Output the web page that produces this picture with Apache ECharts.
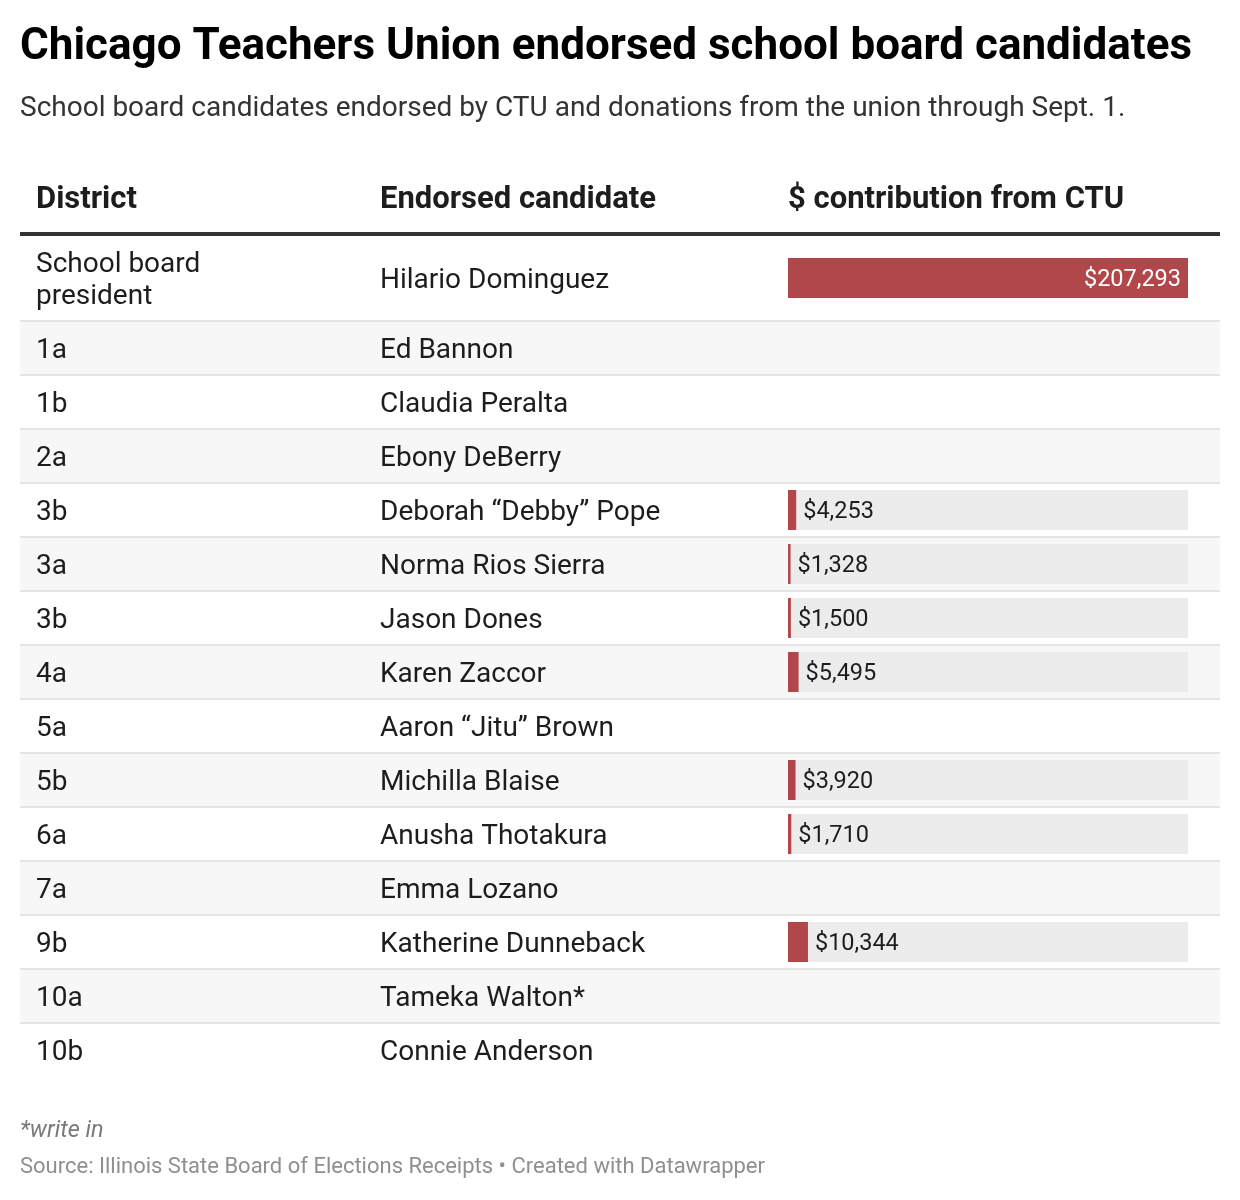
<!DOCTYPE html>
<html>
<head>
<meta charset="utf-8">
<script src="https://cdn.jsdelivr.net/npm/echarts@6/dist/echarts.min.js"></script>
<style>
  html, body { margin: 0; padding: 0; background: #fff; }
  #chart { width: 1240px; height: 1200px; }
</style>
</head>
<body>
<div id="chart"></div>
<script>
(function () {

  var districts = ['School board president', '1a', '1b', '2a', '3b', '3a', '3b', '4a', '5a', '5b', '6a', '7a', '9b', '10a', '10b'];

  var candidates = ['Hilario Dominguez', 'Ed Bannon', 'Claudia Peralta', 'Ebony DeBerry', 'Deborah \u201cDebby\u201d Pope',
    'Norma Rios Sierra', 'Jason Dones', 'Karen Zaccor', 'Aaron \u201cJitu\u201d Brown', 'Michilla Blaise',
    'Anusha Thotakura', 'Emma Lozano', 'Katherine Dunneback', 'Tameka Walton*', 'Connie Anderson'];

  var contributions = [207293, null, null, null, 4253, 1328, 1500, 5495, null, 3920, 1710, null, 10344, null, null];

  var headers = ['District', 'Endorsed candidate', '$ contribution from CTU'];

  var FONT = 'Roboto, "Noto Sans", sans-serif',
      TEXT = '#1d1d1d',
      RED = '#b1474b',
      chart = echarts.init(document.getElementById('chart')),
      maxVal = Math.max.apply(null, contributions.filter(function (v) { return v != null; })),
      money = function (v) { return '$' + v.toLocaleString('en-US'); };

  // first row is taller, so it gets its own grids
  var rowsTop = districts.slice(0, 1), rowsRest = districts.slice(1);
  var candTop = candidates.slice(0, 1), candRest = candidates.slice(1);
  var valTop = contributions.slice(0, 1), valRest = contributions.slice(1);

  // row stripes and rules
  function stripeAxis(gridIndex, data, stripes) {
    return {
      type: 'category', gridIndex: gridIndex, data: data, inverse: true,
      axisLine: { show: false }, axisTick: { show: false }, axisLabel: { show: false },
      splitLine: { show: stripes, lineStyle: { color: '#e5e5e5', width: 2 } },
      splitArea: { show: stripes, areaStyle: { color: ['#f7f7f7', '#ffffff'] } }
    };
  }

  // text columns
  function textAxis(gridIndex, data, margin, wrap) {
    return {
      type: 'category', gridIndex: gridIndex, data: data, inverse: true, position: 'left',
      axisLine: { show: false }, axisTick: { show: false },
      axisLabel: {
        align: 'left', margin: margin, fontSize: 28, color: TEXT, fontFamily: FONT,
        width: wrap, overflow: 'break', lineHeight: 32
      },
      splitLine: { show: false }
    };
  }

  function barAxisY(gridIndex, data) {
    return { type: 'category', gridIndex: gridIndex, data: data, inverse: true, show: false };
  }

  function hiddenX(gridIndex, max) {
    return { type: 'value', gridIndex: gridIndex, min: 0, max: max, show: false };
  }

  function barSeries(axisIndex, vals) {
    return [{
      type: 'bar', xAxisIndex: axisIndex, yAxisIndex: axisIndex, silent: true,
      barWidth: 40, z: 1,
      itemStyle: { color: '#ececec' },
      data: vals.map(function (v) { return v == null ? '-' : maxVal; })
    }, {
      type: 'bar', xAxisIndex: axisIndex, yAxisIndex: axisIndex, silent: true,
      barWidth: 40, barGap: '-100%', z: 2,
      itemStyle: { color: RED },
      data: vals.map(function (v) {
        if (v == null) return '-';
        var big = v > maxVal * 0.3;
        return {
          value: v,
          label: {
            show: true, position: big ? 'insideRight' : 'right', distance: 7, offset: [0, 2],
            color: big ? '#ffffff' : TEXT, fontSize: 23.5, fontFamily: FONT,
            formatter: function (p) { return money(p.value); }
          }
        };
      })
    }];
  }

  var titles = [
    { text: 'Chicago Teachers Union endorsed school board candidates', left: 20, top: 26, padding: 0,
      textStyle: { fontSize: 44, fontWeight: 'bold', color: '#000', fontFamily: FONT } },
    { text: 'School board candidates endorsed by CTU and donations from the union through Sept. 1.', left: 20, top: 95, padding: 0,
      textStyle: { fontSize: 28, fontWeight: 'normal', color: '#333', fontFamily: FONT } },
    { text: '*write in', left: 20, top: 1120, padding: 0,
      textStyle: { fontSize: 23.5, fontStyle: 'italic', fontWeight: 'normal', color: '#7a7a7a', fontFamily: FONT } },
    { text: 'Source: Illinois State Board of Elections Receipts \u2022 Created with Datawrapper', left: 20, top: 1156, padding: 0,
      textStyle: { fontSize: 22, fontWeight: 'normal', color: '#8f8f8f', fontFamily: FONT } }
  ];
  var headerX = [36, 380, 788];
  headers.forEach(function (h, i) {
    titles.push({ text: h, left: headerX[i], top: 185, padding: 0,
      textStyle: { fontSize: 31, fontWeight: 'bold', color: TEXT, fontFamily: FONT } });
  });

  var option = {
    backgroundColor: '#fff',
    animation: false,
    title: titles,
    grid: [
      { left: 20, width: 1200, top: 235, height: 86 },
      { left: 20, width: 1200, top: 321, height: 756 },
      { left: 788, width: 400, top: 235, height: 86 },
      { left: 788, width: 400, top: 321, height: 756 },
      { left: 20, width: 1200, top: 238, height: 86 },
      { left: 20, width: 1200, top: 324, height: 756 }
    ],
    xAxis: [
      hiddenX(0, 1),
      hiddenX(1, 1),
      hiddenX(2, maxVal),
      hiddenX(3, maxVal),
      hiddenX(4, 1),
      hiddenX(5, 1)
    ],
    yAxis: [
      stripeAxis(0, rowsTop, false),
      stripeAxis(1, rowsRest, true),
      barAxisY(2, rowsTop),
      barAxisY(3, rowsRest),
      textAxis(4, rowsTop, -16, 220),
      textAxis(5, rowsRest, -16, 220),
      textAxis(4, candTop, -360, 400),
      textAxis(5, candRest, -360, 400)
    ],
    graphic: [
      { type: 'rect', left: 20, top: 232, z: 10, shape: { width: 1200, height: 4 }, style: { fill: '#333' } },
      { type: 'rect', left: 20, top: 320, z: 10, shape: { width: 1200, height: 2 }, style: { fill: '#e5e5e5' } },
      // the table has no rule under its last row
      { type: 'rect', left: 20, top: 1075, z: 10, shape: { width: 1200, height: 5 }, style: { fill: '#fff' } }
    ],
    series: barSeries(2, valTop).concat(barSeries(3, valRest))
  };

  chart.setOption(option);

})();
</script>
</body>
</html>
